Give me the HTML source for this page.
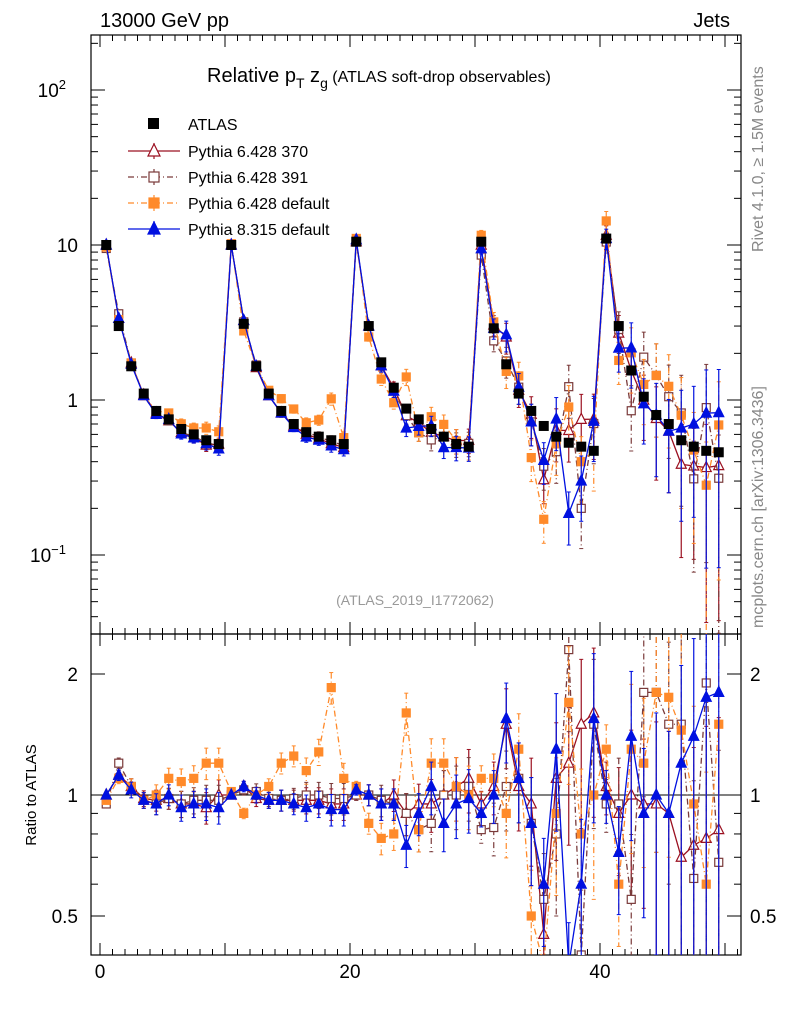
<!DOCTYPE html>
<html><head><meta charset="utf-8"><style>
html,body{margin:0;padding:0;background:#fff;width:786px;height:1024px;overflow:hidden}
svg{display:block;font-family:"Liberation Sans",sans-serif}
</style></head><body>
<svg id="c" width="786" height="1024" viewBox="0 0 786 1024"></svg>
<script>
const atlas=[10,3.0,1.65,1.1,0.85,0.75,0.65,0.6,0.55,0.52, 10,3.1,1.65,1.1,0.85,0.7,0.62,0.58,0.55,0.52, 10.5,3.0,1.75,1.2,0.88,0.75,0.65,0.58,0.52,0.5, 10.5,2.9,1.7,1.1,0.85,0.68,0.58,0.53,0.5,0.47, 11,3.0,1.55,1.05,0.8,0.7,0.55,0.5,0.47,0.46];
const r370=[1.0,1.12,1.05,0.98,0.97,0.98,0.95,0.95,0.93,1.0, 1.0,1.05,0.98,0.97,0.97,0.97,0.97,0.97,0.95,0.95, 1.0,1.0,0.95,1.0,0.9,0.95,0.95,1.0,1.05,1.1, 0.95,1.05,1.5,1.05,0.95,0.45,1.1,1.2,1.5,1.6, 1.05,0.9,1.0,0.95,0.95,0.9,0.7,0.75,0.78,0.82];
const r391=[0.95,1.2,1.05,0.97,0.95,0.98,0.95,0.97,0.97,0.97, 1.0,1.03,1.02,0.98,0.97,0.98,1.0,1.0,0.98,0.98, 1.0,1.0,0.97,0.95,0.9,0.82,0.85,1.0,1.0,1.05, 0.82,0.83,1.05,1.1,0.85,0.55,0.8,2.3,0.4,1.5, 0.95,0.95,0.55,1.8,1.8,1.5,1.5,0.62,1.9,0.68];
const rdef=[0.97,1.1,1.05,0.97,1.0,1.1,1.08,1.1,1.2,1.2, 1.02,0.9,1.0,1.05,1.2,1.25,1.15,1.28,1.85,1.1, 1.05,0.85,0.78,0.8,1.6,0.82,1.2,1.2,1.05,1.0, 1.1,1.1,0.9,1.3,0.5,0.25,0.9,1.7,0.8,1.0, 1.3,0.6,1.3,1.2,1.8,1.75,1.45,0.95,0.6,1.5];
const rp8=[1.0,1.12,1.03,0.97,0.95,1.0,0.93,0.95,0.95,0.93, 1.0,1.05,1.0,0.97,0.97,0.95,0.93,0.95,0.92,0.92, 1.03,1.0,0.95,0.95,0.75,0.9,1.05,0.85,0.95,0.98, 0.9,1.0,1.55,1.1,0.85,0.6,1.3,0.35,0.6,1.55, 1.0,0.72,1.4,0.9,1.0,0.9,1.2,1.4,1.75,1.8];
const segErr=[0.01,0.02,0.03,0.03,0.04,0.04,0.05,0.05,0.06,0.06];
const segScale=[1,1,2,5,10];
const xTicks=[0,20,40];
const mainTicks=[{v:100,t:"10",e:"2"},{v:10,t:"10",e:""},{v:1,t:"1",e:""},{v:0.1,t:"10",e:"−1"}];
const ratioTicks=[{v:2,t:"2"},{v:1,t:"1"},{v:0.5,t:"0.5"}];

const L=91,R=741,T=35,M=634,B=955;
const X=v=>100+12.5*v;
const clamp=(y,a,b)=>Math.max(a,Math.min(b,y));
const Ym=v=>clamp(400-155*Math.log10(v),T-10,M+10);
const Yr=v=>clamp(795-121*Math.log2(v),M-10,B+10);
const S=document.getElementById('c');
const NS="http://www.w3.org/2000/svg";
function el(tag,a,parent){const e=document.createElementNS(NS,tag);for(const k in a)e.setAttribute(k,a[k]);(parent||S).appendChild(e);return e;}
function txt(x,y,s,a,parent){const e=el('text',Object.assign({x:x,y:y},a||{}),parent);e.textContent=s;return e;}

const clipM=el('clipPath',{id:'cm'});el('rect',{x:L,y:T,width:R-L,height:M-T},clipM);
const clipR=el('clipPath',{id:'cr'});el('rect',{x:L,y:M,width:R-L,height:B-M},clipR);

const f1=el('rect',{x:L,y:T,width:R-L,height:M-T,fill:'none',stroke:'#000','stroke-width':1.2});

const f2=el('rect',{x:L,y:M,width:R-L,height:B-M,fill:'none',stroke:'#000','stroke-width':1.2});

el('line',{x1:L,x2:R,y1:Yr(1),y2:Yr(1),stroke:'#000','stroke-width':1});

for(let v=0;v<=51;v++){const major=v%10===0;const len=major?12:6;
 for(const [y0,d] of [[M,-1],[T,1],[B,-1],[M,1]]) el('line',{x1:X(v),x2:X(v),y1:y0,y2:y0+d*len,stroke:'#000'});}
xTicks.forEach(v=>{const t=txt(X(v),978,String(v),{'font-size':19,'text-anchor':'middle'});});
for(let d=-2;d<=2;d++){for(let k=1;k<10;k++){const v=k*Math.pow(10,d);const yy=400-155*Math.log10(v);if(yy<T||yy>M)continue;const len=k===1?14:7;
 el('line',{x1:L,x2:L+len,y1:yy,y2:yy,stroke:'#000'});el('line',{x1:R,x2:R-len,y1:yy,y2:yy,stroke:'#000'});}}
mainTicks.forEach(o=>{const t=txt(o.e?74:78,Ym(o.v)+7,o.t,{'font-size':19,'text-anchor':'end'});
 
 if(o.e){t.setAttribute('x',66);const s=el('tspan',{dy:-8,'font-size':13},t);s.textContent=o.e;}});
[0.5,0.6,0.7,0.8,0.9,1,2].forEach(v=>{const y=Yr(v);const len=(v===1||v===2||v===0.5)?14:7;
 el('line',{x1:L,x2:L+len,y1:y,y2:y,stroke:'#000'});el('line',{x1:R,x2:R-len,y1:y,y2:y,stroke:'#000'});});
ratioTicks.forEach(o=>{const a=txt(78,Yr(o.v)+7,o.t,{'font-size':19,'text-anchor':'end'});
 const b=txt(750,Yr(o.v)+7,o.t,{'font-size':19});});

const series=[
 {name:'pythia6-370',r:r370,c:'#9b1020',dash:'',m:'tri',fill:'none'},
 {name:'pythia6-391',r:r391,c:'#7a3a3a',dash:'6,3,1,3',m:'sq',fill:'none'},
 {name:'pythia6-default',r:rdef,c:'#ff8a2a',dash:'6,3,1,3',m:'sq',fill:'#ff8a2a'},
 {name:'pythia8-default',r:rp8,c:'#0010e0',dash:'',m:'tri',fill:'#0010e0'}];
function marker(g,m,x,y,c,fill,sz){
 if(m==='tri'){const s=sz||5;el('polygon',{points:`${x},${y-s-1} ${x-s},${y+s-1} ${x+s},${y+s-1}`,fill:fill==='none'?'#fff':fill,stroke:c,'stroke-width':1.2},g);}
 else{const s=sz||4;el('rect',{x:x-s,y:y-s,width:2*s,height:2*s,fill:fill==='none'?'#fff':fill,stroke:c,'stroke-width':1.2},g);}}
function err(i){return segErr[i%10]*segScale[Math.floor(i/10)];}
series.forEach(s=>{
 ['m','r'].forEach(p=>{
  const g=el('g',{'clip-path':p==='m'?'url(#cm)':'url(#cr)'});
  
  const Y=p==='m'?(i=>Ym(atlas[i]*s.r[i])):(i=>Yr(s.r[i]));
  const pts=s.r.map((v,i)=>X(i+0.5)+','+Y(i)).join(' ');
  el('polyline',{points:pts,fill:'none',stroke:s.c,'stroke-width':1.3,'stroke-dasharray':s.dash},g);
  s.r.forEach((v,i)=>{const e=err(i)*1.5;const val=p==='m'?atlas[i]*v:v;
   const yf=p==='m'?Ym:Yr;const y1=yf(val*(1+e)),y2=yf(Math.max(val*(1-e),0.01));
   el('line',{x1:X(i+0.5),x2:X(i+0.5),y1:y1,y2:y2,stroke:s.c,'stroke-width':1.2,'stroke-dasharray':s.dash},g);
   el('line',{x1:X(i+0.5)-2,x2:X(i+0.5)+2,y1:y1,y2:y1,stroke:s.c},g);el('line',{x1:X(i+0.5)-2,x2:X(i+0.5)+2,y1:y2,y2:y2,stroke:s.c},g);
   marker(g,s.m,X(i+0.5),Y(i),s.c,s.fill);});
 });
});
const ga=el('g',{'clip-path':'url(#cm)'});
atlas.forEach((v,i)=>{el('rect',{x:X(i+0.5)-5,y:Ym(v)-5,width:10,height:10,fill:'#000'},ga);});

let t=txt(100,27,'13000 GeV pp',{'font-size':20});
t=txt(730,27,'Jets',{'font-size':20,'text-anchor':'end'});
t=el('text',{x:207,y:82,'font-size':20});
t.innerHTML='Relative p<tspan dy="6" font-size="14">T</tspan><tspan dy="-6"> z</tspan><tspan dy="6" font-size="14">g</tspan><tspan dy="-6" font-size="16"> (ATLAS soft-drop observables)</tspan>';
t=txt(415,605,'(ATLAS_2019_I1772062)',{'font-size':14,fill:'#999','text-anchor':'middle'});
t=txt(0,0,'Rivet 4.1.0, ≥ 1.5M events',{'font-size':16,fill:'#888',transform:'translate(763,252) rotate(-90)'});
t=txt(0,0,'mcplots.cern.ch [arXiv:1306.3436]',{'font-size':16,fill:'#888',transform:'translate(763,628) rotate(-90)'});
t=txt(0,0,'Ratio to ATLAS',{'font-size':15,'text-anchor':'middle',transform:'translate(36,795) rotate(-90)'});

const leg=el('g',{});
el('rect',{x:148,y:118,width:11,height:11,fill:'#000'},leg);
txt(188,130,'ATLAS',{'font-size':16},leg);
const labels=['Pythia 6.428 370','Pythia 6.428 391','Pythia 6.428 default','Pythia 8.315 default'];
series.forEach((s,k)=>{const y=151+k*26;const ge=el('g',{},leg);
 el('line',{x1:128,x2:180,y1:y,y2:y,stroke:s.c,'stroke-width':1.3,'stroke-dasharray':s.dash},ge);
 el('line',{x1:154,x2:154,y1:y-8,y2:y+8,stroke:s.c,'stroke-width':1.2,'stroke-dasharray':s.dash},ge);
 marker(ge,s.m,154,y,s.c,s.fill,s.m==='tri'?6:5);
 txt(188,y+6,labels[k],{'font-size':16},ge);});
</script>
</body></html>
